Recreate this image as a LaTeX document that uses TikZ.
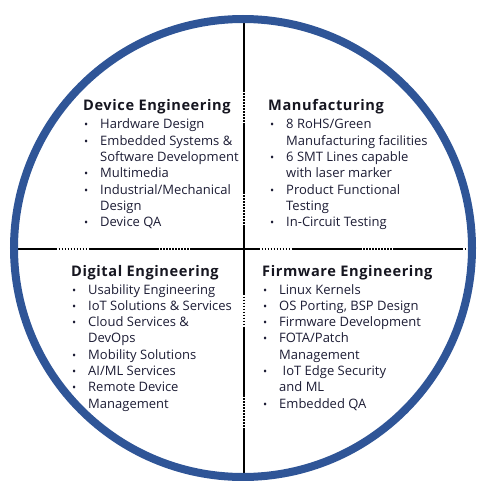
\documentclass[tikz,border=0pt]{standalone}
\usepackage{fontspec}
\setmainfont{Open Sans}
\newfontfamily\headfam[LetterSpace=4]{Open Sans}
\definecolor{ringblue}{RGB}{47,85,151}
\definecolor{itemcol}{RGB}{28,28,52}
\definecolor{headcol}{RGB}{22,22,32}
\tikzset{
  head/.style={anchor=base west, inner sep=0pt, text=headcol, font=\headfam\bfseries\fontsize{14.6}{16}\selectfont},
  item/.style={anchor=base west, inner sep=0pt, text=itemcol, font=\fontsize{13}{15}\selectfont},
  bul/.style={anchor=base west, inner sep=0pt, text=itemcol, font=\fontsize{11}{12}\selectfont},
  divider/.style={black, line width=1.1pt, dash pattern=on 70pt off 1.5pt on 1.5pt off 1.5pt on 1.5pt off 1.5pt on 1.5pt off 1.5pt on 1.5pt off 1.5pt on 1.5pt off 1.5pt on 1.5pt off 1.5pt on 1.5pt off 1.5pt on 1.5pt off 1.5pt on 1.5pt off 1.5pt on 1.5pt off 1.5pt},
  ring/.style={draw=ringblue, line width=8pt}
}
\newcommand{\itm}[4]{\node[bul] (#1b) at (#2,#3) {•}; \node[item] (#1) at (#2+16,#3) {#4};}
\newcommand{\cnt}[4]{\node[item] (#1) at (#2+16,#3) {#4};}
\begin{document}
\begin{tikzpicture}[x=1pt,y=-1pt]
\useasboundingbox (0,0) rectangle (478,481);
% dividers
\coordinate (top) at (244,22);
\coordinate (bot) at (244,474);
\coordinate (lft) at (17,249);
\coordinate (rgt) at (469,249);
\draw[divider] (top) -- (bot);
\draw[divider, dash phase=30pt] (lft) -- (rgt);
% ring
\node[ring, circle, minimum size=458pt, inner sep=0pt] (ringc) at (243,248) {};
% Device Engineering
\node[head] (dh) at (83,111) {Device Engineering};
\itm{d1}{84}{129}{Hardware Design}
\itm{d2}{84}{145.3}{Embedded Systems \&}
\cnt{d3}{84}{161.6}{Software Development}
\itm{d4}{84}{177.9}{Multimedia}
\itm{d5}{84}{194.2}{Industrial/Mechanical}
\cnt{d6}{84}{210.5}{Design}
\itm{d7}{84}{226.8}{Device QA}
% Manufacturing
\node[head] (mh) at (268,111) {Manufacturing};
\itm{m1}{270}{129}{8 RoHS/Green}
\cnt{m2}{270}{145.3}{Manufacturing facilities}
\itm{m3}{270}{161.6}{6 SMT Lines capable}
\cnt{m4}{270}{177.9}{with laser marker}
\itm{m5}{270}{194.2}{Product Functional}
\cnt{m6}{270}{210.5}{Testing}
\itm{m7}{270}{226.8}{In-Circuit Testing}
% Digital Engineering
\node[head] (gh) at (71,276) {Digital Engineering};
\itm{g1}{72}{294}{Usability Engineering}
\itm{g2}{72}{310.3}{IoT Solutions \& Services}
\itm{g3}{72}{326.6}{Cloud Services \&}
\cnt{g4}{72}{342.9}{DevOps}
\itm{g5}{72}{359.2}{Mobility Solutions}
\itm{g6}{72}{375.5}{AI/ML Services}
\itm{g7}{72}{391.8}{Remote Device}
\cnt{g8}{72}{408.1}{Management}
% Firmware Engineering
\node[head] (fh) at (262,276) {Firmware Engineering};
\itm{f1}{263}{294}{Linux Kernels}
\itm{f2}{263}{310.3}{OS Porting, BSP Design}
\itm{f3}{263}{326.6}{Firmware Development}
\itm{f4}{263}{342.9}{FOTA/Patch}
\cnt{f5}{263}{359.2}{Management}
\itm{f6}{263}{375.5}{\hspace{3.5pt}IoT Edge Security}
\cnt{f7}{263}{391.8}{and ML}
\itm{f8}{263}{408.1}{Embedded QA}
\end{tikzpicture}
\end{document}
